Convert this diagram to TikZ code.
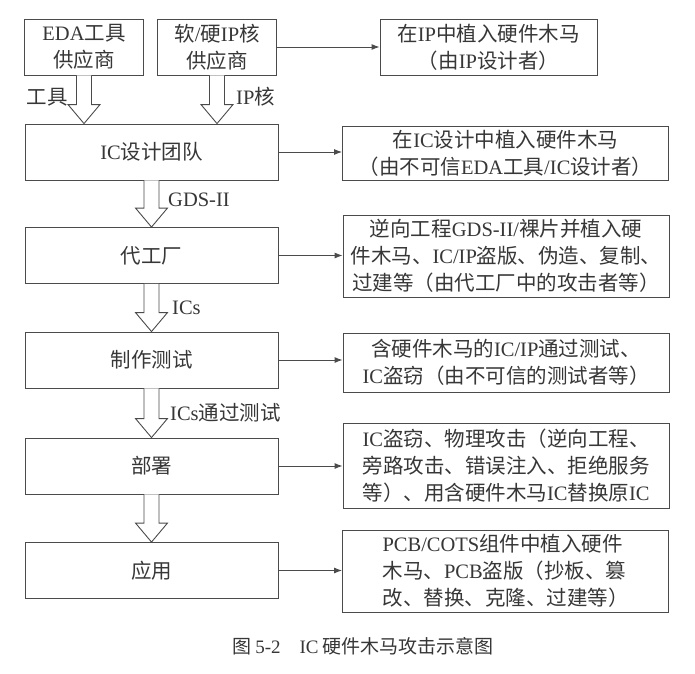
\documentclass[tikz,border=0pt]{standalone}
\usepackage{fontspec}
\setmainfont{Noto Sans CJK SC}
\newfontfamily\latinfont{Liberation Serif}
\newcommand{\lat}[1]{{\latinfont #1}}
\usetikzlibrary{arrows.meta, positioning, calc}
\definecolor{mygray}{RGB}{75,75,75}
\definecolor{mytext}{RGB}{55,55,55}
\tikzset{
  stage/.style={rectangle, draw=mygray, line width=0.9pt,
    minimum width=253pt, minimum height=56pt, inner sep=0pt, align=center,
    font=\fontsize{20.5}{27}\selectfont, text=mytext},
  source/.style={stage, minimum width=119pt},
  threat/.style={rectangle, draw=mygray, line width=0.9pt,
    minimum width=326pt, inner sep=0pt, align=center,
    font=\fontsize{20.5}{27}\selectfont, text=mytext},
  arrow/.style={-{Latex[length=8pt,width=6pt]}, line width=0.9pt, color=mygray},
  hollow/.style={draw=mygray, line width=0.9pt, fill=white, line join=miter},
  lbl/.style={font=\fontsize{20.5}{27}\selectfont, text=mytext, inner sep=0pt}
}
\newcommand{\hollowarrow}[2]{%
  \draw[hollow] ($(#1)+(-7.5,0)$) -- ($(#2)+(-7.5,-19)$) -- ($(#2)+(-16,-19)$)
    -- (#2) -- ($(#2)+(16,-19)$) -- ($(#2)+(7.5,-19)$) -- ($(#1)+(7.5,0)$);}

\begin{document}
\begin{tikzpicture}[x=1pt, y=-1pt]
  \useasboundingbox[fill=white] (0,0) rectangle (695,673);

  % Suppliers
  \node[source] (eda) at (84,47) {\lat{EDA}工具\\供应商};
  \node[source] (ipv) at (217,47) {软\lat{/}硬\lat{IP}核\\供应商};
  \node[threat, minimum width=217pt, minimum height=56pt] (ipt) at (488.5,47)
    {在\lat{IP}中植入硬件木马\\（由\lat{IP}设计者）};

  % Flow stages
  \node[stage] (design) at (151.5,152) {\lat{IC}设计团队};
  \node[stage] (fab) at (151.5,255.5) {代工厂};
  \node[stage] (test) at (151.5,360) {制作测试};
  \node[stage] (deploy) at (151.5,466) {部署};
  \node[stage] (app) at (151.5,570.5) {应用};

  % Attacks
  \node[threat, minimum height=54pt] (designt) at (505.5,153)
    {在\lat{IC}设计中植入硬件木马\\（由不可信\lat{EDA}工具\lat{/IC}设计者）};
  \node[threat, minimum height=82pt] (fabt) at (506,256)
    {逆向工程\lat{GDS-II/}裸片并植入硬\\件木马、\lat{IC/IP}盗版、伪造、复制、\\过建等（由代工厂中的攻击者等）};
  \node[threat, minimum height=59pt] (testt) at (506,362.5)
    {含硬件木马的\lat{IC/IP}通过测试、\\\lat{IC}盗窃（由不可信的测试者等）};
  \node[threat, minimum height=85pt, align=left] (deployt) at (506,465.5)
    {\lat{IC}盗窃、物理攻击（逆向工程、\\旁路攻击、错误注入、拒绝服务\\等）、用含硬件木马\lat{IC}替换原\lat{IC}};
  \node[threat, minimum height=82pt, align=left] (appt) at (505.5,571)
    {\lat{PCB/COTS}组件中植入硬件\\木马、\lat{PCB}盗版（抄板、篡\\改、替换、克隆、过建等）};

  % Hollow arrows
  \coordinate (edain) at (design.north -| eda.south);
  \coordinate (ipin) at (design.north -| ipv.south);
  \hollowarrow{eda.south}{edain}
  \hollowarrow{ipv.south}{ipin}
  \hollowarrow{design.south}{fab.north}
  \hollowarrow{fab.south}{test.north}
  \hollowarrow{test.south}{deploy.north}
  \hollowarrow{deploy.south}{app.north}

  \node[lbl, anchor=east] (tool) at (68,97) {工具};
  \node[lbl, anchor=west] (ipcore) at (236,97) {\lat{IP}核};
  \node[lbl, anchor=west] (gds) at (168,200) {\lat{GDS-II}};
  \node[lbl, anchor=west] (ics) at (172,308) {\lat{ICs}};
  \node[lbl, anchor=west] (icspass) at (170,413) {\lat{ICs}通过测试};

  % Attack arrows
  \draw[arrow] (ipv.east) -- (ipt.west);
  \draw[arrow] (design.east) -- (design.east -| designt.west);
  \draw[arrow] (fab.east) -- (fab.east -| fabt.west);
  \draw[arrow] (test.east) -- (test.east -| testt.west);
  \draw[arrow] (deploy.east) -- (deploy.east -| deployt.west);
  \draw[arrow] (app.east) -- (app.east -| appt.west);

  \node[font=\fontsize{19}{22}\selectfont, text=mytext] (caption) at (363,646)
    {图 \lat{5-2}\hspace{1em}\lat{IC} 硬件木马攻击示意图};
\end{tikzpicture}
\end{document}
